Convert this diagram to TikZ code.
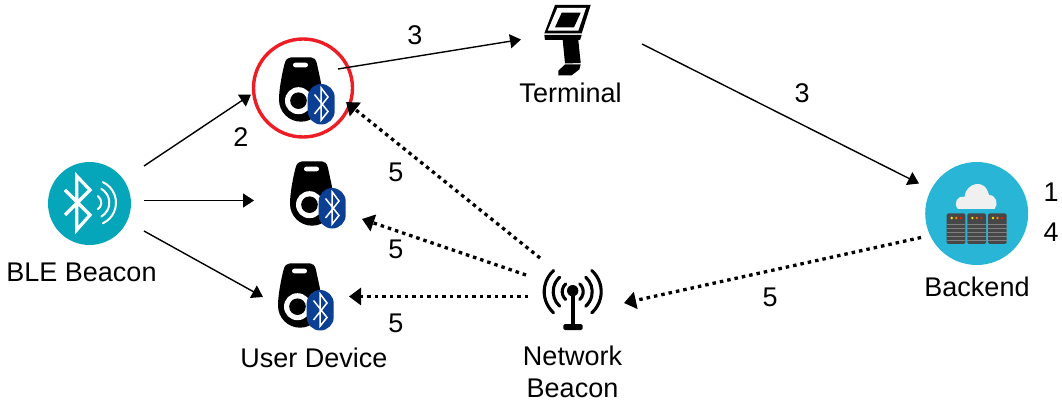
\documentclass[tikz,border=0pt]{standalone}
\usepackage{fontspec}
\setmainfont{Liberation Sans}
\usetikzlibrary{arrows.meta}
\definecolor{bleteal}{HTML}{05A6B9}
\definecolor{backblue}{HTML}{29B6D6}
\definecolor{btblue}{HTML}{0B3F94}
\definecolor{ringred}{HTML}{EE1C25}
\tikzset{
  x=1pt,y=-1pt,
  label text/.style={font=\fontsize{27}{31}\selectfont,inner sep=0pt,text=black},
  solidlink/.style={line width=1.4pt,-{Triangle[length=11pt,width=14pt]}},
  dotlink/.style={line width=3.3pt,dash pattern=on 3.5pt off 4pt,-{Triangle[length=12pt,width=17pt]}},
  rune/.style={white,line width=#1,line join=miter,fill=none},
  pics/tagdevice/.style={code={
    \fill[black] (-21,8.7) .. controls (-21,-2) and (-18,-17) .. (-15.5,-27)
      .. controls (-14.5,-31.5) and (-12,-33.7) .. (-9,-33.7) -- (11,-33.7)
      .. controls (14,-33.7) and (16,-31.5) .. (17,-27)
      .. controls (19,-17) and (23,-2) .. (23,8.7)
      arc[start angle=0,end angle=180,radius=22] -- cycle;
    \fill[white,rounded corners=2.3] (-7,-28.3) rectangle (8,-23.7);
    \fill[white] (-1.5,9.7) circle[radius=13.5];
    \fill[black] (-1.5,9.7) circle[radius=8.3];
    \fill[btblue,rounded corners=13.5] (7.7,-7) rectangle (34.7,33.5);
    \draw[rune=1.5pt] (14.5,3.5) -- (28,20.5) -- (21.2,29) -- (21.2,-3) -- (28,6) -- (14.5,23);
  }},
}
\begin{document}
\begin{tikzpicture}
\useasboundingbox (0,0) rectangle (1062,403);

% BLE beacon
\fill[bleteal] (89.5,203.5) circle[radius=41.5];
\draw[rune=3.2pt] (65,190) -- (90,215) -- (76.7,230) -- (76.7,176) -- (90,190) -- (65,215);
\draw[white,line width=2pt,line cap=round] ([shift={(-55:8)}]93.3,202.7) arc[start angle=-55,end angle=55,radius=8];
\draw[white,line width=2pt,line cap=round] ([shift={(-60:16)}]93.3,202.7) arc[start angle=-60,end angle=60,radius=16];
\draw[white,line width=2pt,line cap=round] ([shift={(-65:22.7)}]93.3,202.7) arc[start angle=-65,end angle=65,radius=22.7];
\node[label text] (blelabel) at (81.5,272) {BLE Beacon};

% User devices
\draw[ringred,line width=3.4pt] (303,88) ellipse[x radius=49.5,y radius=49];
\pic (devA) at (300,91) {tagdevice};
\pic (devB) at (311,195) {tagdevice};
\pic (devC) at (299,297) {tagdevice};
\node[label text] (devlabel) at (314,358) {User Device};

% Terminal
\fill[black] (555,5) -- (590.7,5) -- (581.7,33.5) -- (544.3,33.5) -- cycle;
\fill[white] (557.3,8) -- (586,8) -- (578.3,30.7) -- (547.7,30.7) -- cycle;
\fill[black] (561.7,12.7) -- (580.7,12.7) -- (574,27.3) -- (555,27.3) -- cycle;
\fill[black] (544.3,35) -- (581.7,35) -- (580,40) -- (545,40) -- cycle;
\fill[black] (562.7,40) -- (578.3,40) -- (580.7,63) -- (565,63.5) -- cycle;
\fill[black] (558.3,70.7) -- (565,64.5) -- (580.7,64.5) -- (579.3,69.5) -- (571.7,75.3) -- (558.3,75.3) -- cycle;
\node[label text] (termlabel) at (570.5,93) {Terminal};

% Backend
\fill[backblue] (976.7,213.5) circle[radius=51.5];
\fill[white!94!black] (958,209) .. controls (953,204) and (957,195) .. (964.5,197)
  .. controls (965,189) and (973,182) .. (981,184.5)
  .. controls (986,186) and (988,191) .. (989,195)
  .. controls (996,195) and (999,204) .. (994.5,209) -- cycle;
\foreach \sx/\sn in {946.7/a,967.3/b,988/c}{
  \fill[black!72,rounded corners=1.5] (\sx,213.3) rectangle ++(18.7,30.7);
  \foreach \sy in {224,228,232,236,240}
    \draw[black!50,line width=0.8pt] (\sx,\sy) -- ++(18.7,0);
  \fill[yellow!90!orange] (\sx+5,218) circle[radius=1.3];
  \fill[orange] (\sx+9.5,218) circle[radius=1.3];
  \fill[red!80!orange] (\sx+14,218) circle[radius=1.3];
}
\node[label text] (backlabel) at (977,287) {Backend};
\node[label text] (num1) at (1051,192) {1};
\node[label text] (num4) at (1051,232) {4};

% Network beacon
\fill[black] (572.7,290.7) circle[radius=5.7];
\fill[black] (570.7,292) rectangle (574.7,325);
\fill[black,rounded corners=1.5] (563.3,324) rectangle (582.7,330);
\foreach \ar in {10.5,19.5,28.5}{
  \draw[line width=3.1pt,line cap=round] ([shift={(-48:\ar)}]572.7,291.7) arc[start angle=-48,end angle=48,radius=\ar];
  \draw[line width=3.1pt,line cap=round] ([shift={(132:\ar)}]572.7,291.7) arc[start angle=132,end angle=228,radius=\ar];
}
\node[label text,align=center] (netlabel) at (572.5,372) {Network\\[1pt]Beacon};

% Connector ends
\coordinate (bleNE) at (144,166);
\coordinate (bleE) at (144,200.5);
\coordinate (bleSE) at (144,231);
\coordinate (devAin) at (251,94.5);
\coordinate (devBin) at (254,200.5);
\coordinate (devCin) at (263,297);
\coordinate (devAout) at (338,69);
\coordinate (termIn) at (521,39.5);
\coordinate (termOut) at (642,44);
\coordinate (backIn) at (919,183.5);
\coordinate (backOut) at (921,237.5);
\coordinate (netIn) at (624,303);
\coordinate (netA) at (540,258);
\coordinate (netB) at (526,275);
\coordinate (netC) at (528,296.5);
\coordinate (devAdot) at (346,102);
\coordinate (devBdot) at (362,219);
\coordinate (devCdot) at (349,296.5);

\draw[solidlink] (bleNE) -- (devAin);
\draw[solidlink] (bleE) -- (devBin);
\draw[solidlink] (bleSE) -- (devCin);
\draw[solidlink] (devAout) -- (termIn);
\draw[solidlink] (termOut) -- (backIn);
\draw[dotlink] (backOut) -- (netIn);
\draw[dotlink] (netA) -- (devAdot);
\draw[dotlink] (netB) -- (devBdot);
\draw[dotlink] (netC) -- (devCdot);

% Step numbers
\node[label text] (stepA) at (415,35) {3};
\node[label text] (stepB) at (802,93) {3};
\node[label text] (stepC) at (241,137) {2};
\node[label text] (stepD) at (396,172) {5};
\node[label text] (stepE) at (396,249) {5};
\node[label text] (stepF) at (396,323) {5};
\node[label text] (stepG) at (770,297) {5};
\end{tikzpicture}
\end{document}
